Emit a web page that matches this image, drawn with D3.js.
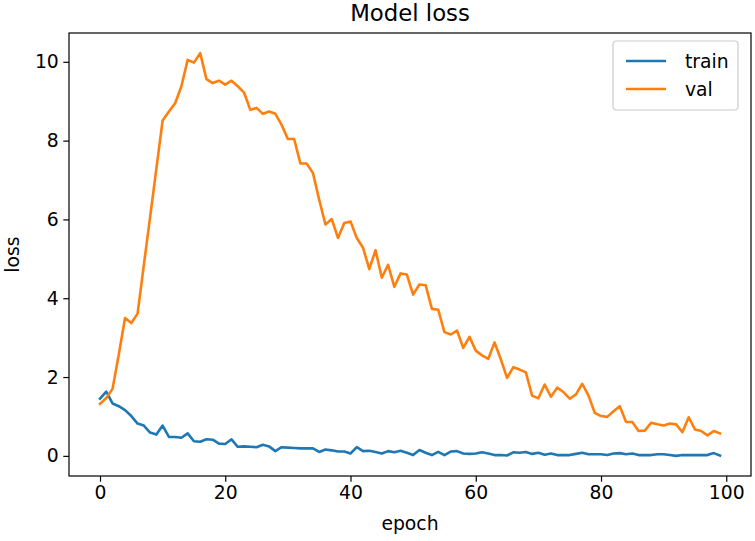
<!DOCTYPE html>
<html><head><meta charset="utf-8">
<script src="https://cdn.jsdelivr.net/npm/d3@7"></script>
<style>body{margin:0;background:#fff}svg{display:block}text{font-family:"DejaVu Sans",sans-serif;fill:#000}</style>
</head><body><svg id="c" width="755" height="541"></svg>
<script>
const epochs = d3.range(0, 100);
const trainLoss = [1.45,1.63,1.33,1.26,1.16,1.01,0.82,0.77,0.59,0.54,
0.77,0.48,0.48,0.46,0.57,0.37,0.36,0.42,0.41,0.31,
0.30,0.42,0.23,0.24,0.23,0.22,0.28,0.24,0.12,0.22,
0.21,0.20,0.19,0.19,0.19,0.10,0.16,0.14,0.11,0.11,
0.06,0.22,0.12,0.13,0.10,0.06,0.12,0.09,0.13,0.08,
0.02,0.15,0.08,0.02,0.10,0.02,0.11,0.12,0.06,0.05,
0.06,0.09,0.06,0.02,0.02,0.01,0.09,0.08,0.10,0.05,
0.08,0.03,0.06,0.02,0.02,0.02,0.05,0.08,0.04,0.04,
0.04,0.02,0.06,0.07,0.04,0.06,0.02,0.02,0.02,0.04,
0.04,0.02,0.00,0.02,0.02,0.02,0.02,0.02,0.07,0.01];
const valLoss = [1.32,1.47,1.70,2.57,3.50,3.37,3.61,4.84,6.06,7.29,
8.51,8.74,8.95,9.38,10.05,9.98,10.22,9.56,9.46,9.52,
9.42,9.52,9.38,9.22,8.78,8.83,8.68,8.74,8.68,8.40,
8.04,8.04,7.42,7.42,7.18,6.50,5.87,6.01,5.53,5.91,
5.95,5.53,5.28,4.74,5.22,4.52,4.85,4.29,4.63,4.60,
4.09,4.35,4.33,3.73,3.71,3.14,3.08,3.18,2.74,3.02,
2.67,2.55,2.46,2.88,2.45,1.98,2.25,2.19,2.12,1.53,
1.46,1.81,1.50,1.73,1.62,1.45,1.56,1.83,1.53,1.09,
1.01,0.99,1.13,1.26,0.86,0.86,0.63,0.64,0.84,0.80,
0.77,0.82,0.80,0.60,0.98,0.67,0.63,0.52,0.63,0.57];
const seriesNames = ["train", "val"];
const seriesColors = ["#1f77b4", "#ff7f0e"];
const xTicks = [0, 20, 40, 60, 80, 100];
const yTicks = [0, 2, 4, 6, 8, 10];

const L = 69, R = 751, T = 33, B = 476;
const FS = 18.8;
const svg = d3.select("#c");
const x = d3.scaleLinear().domain([-4.95, 103.95]).range([L, R]);
const allV = trainLoss.concat(valLoss);
const ymin = d3.min(allV), ymax = d3.max(allV), pad = (ymax - ymin) * 0.05;
const y = d3.scaleLinear().domain([ymin - pad, ymax + pad]).range([B, T]);

svg.append("defs").append("clipPath").attr("id", "cp")
  .append("rect").attr("x", L).attr("y", T).attr("width", R - L).attr("height", B - T);

const line = d3.line().x((d, i) => x(epochs[i])).y(d => y(d));
const g = svg.append("g").attr("clip-path", "url(#cp)");
[trainLoss, valLoss].forEach((s, k) => {
  g.append("path").datum(s).attr("d", line).attr("fill", "none")
    .attr("stroke", seriesColors[k]).attr("stroke-width", 2.6)
    .attr("stroke-linejoin", "round").attr("stroke-linecap", "square");
});

const xa = svg.append("g").attr("transform", `translate(0,${B})`)
  .call(d3.axisBottom(x).tickValues(xTicks).tickSize(5.7).tickPadding(4).tickFormat(d3.format("d")));
const ya = svg.append("g").attr("transform", `translate(${L},0)`)
  .call(d3.axisLeft(y).tickValues(yTicks).tickSize(5.7).tickPadding(4.5).tickFormat(d3.format("d")));
[xa, ya].forEach(a => {
  a.select(".domain").remove();
  a.selectAll("line").attr("stroke", "#000").attr("stroke-width", 1.2);
  a.selectAll("text").attr("font-size", FS).attr("font-family", "DejaVu Sans").attr("fill", "#000");
});

svg.append("rect").attr("x", L).attr("y", T).attr("width", R - L).attr("height", B - T)
  .attr("fill", "none").attr("stroke", "#000").attr("stroke-width", 1.2);

svg.append("text").attr("x", (L + R) / 2).attr("y", 21).attr("text-anchor", "middle")
  .attr("font-size", 22.8).text("Model loss");
svg.append("text").attr("x", (L + R) / 2).attr("y", 530).attr("text-anchor", "middle")
  .attr("font-size", FS).text("epoch");
svg.append("text").attr("transform", `translate(19,${(T + B) / 2}) rotate(-90)`)
  .attr("text-anchor", "middle").attr("font-size", FS).text("loss");

const lg = svg.append("g");
lg.append("rect").attr("x", 613).attr("y", 41).attr("width", 125).attr("height", 69)
  .attr("rx", 3.5).attr("fill", "#fff").attr("fill-opacity", 0.8)
  .attr("stroke", "#cccccc").attr("stroke-width", 1.2);
seriesNames.forEach((n, k) => {
  const yy = 61 + k * 28;
  lg.append("line").attr("x1", 626).attr("x2", 666).attr("y1", yy).attr("y2", yy)
    .attr("stroke", seriesColors[k]).attr("stroke-width", 2.6);
  lg.append("text").attr("x", 685).attr("y", yy + 6.5).attr("font-size", FS).text(n);
});
</script></body></html>
